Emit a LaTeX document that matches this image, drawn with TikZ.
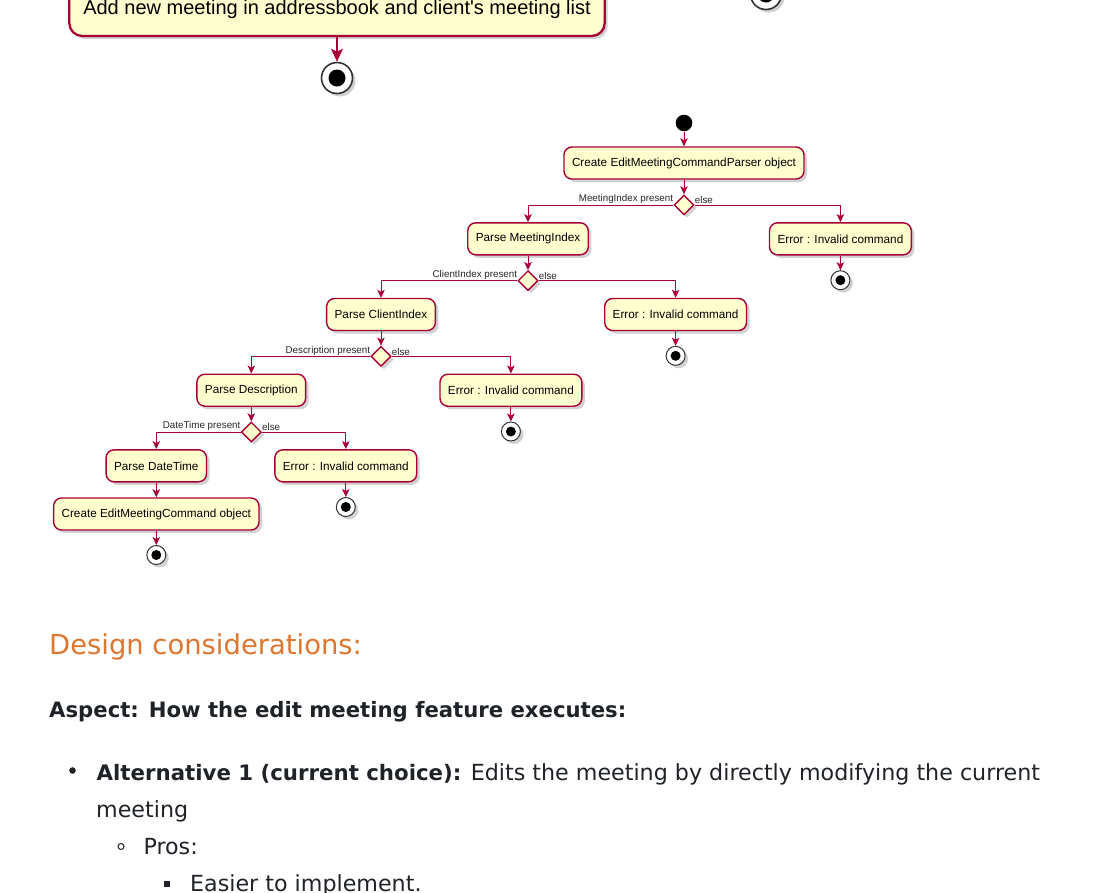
\documentclass[tikz,border=0pt]{standalone}
\usepackage{fontspec}
\setmainfont{DejaVu Sans}
\newfontfamily\umlfont{Liberation Sans}
\usetikzlibrary{arrows.meta,shapes.geometric,shadows}
\begin{document}
\begin{tikzpicture}[x=1pt, y=-1pt, >={Stealth[length=8pt,width=7.5pt,inset=2pt]},
  sombra/.style={drop shadow={shadow xshift=3pt, shadow yshift=-3pt, fill=black, opacity=0.18}},
  accion/.style={draw=borde, line width=1.4pt, fill=fondo, rounded corners=8pt,
    minimum height=32pt, inner xsep=8pt, inner ysep=0pt, sombra,
    font=\umlfont\fontsize{11.75}{14}\selectfont},
  accionG/.style={accion, line width=2.3pt, rounded corners=13pt, minimum height=54pt,
    inner xsep=14pt, font=\umlfont\fontsize{20}{24}\selectfont},
  decision/.style={diamond, draw=borde, line width=1.4pt, fill=fondo,
    minimum width=20pt, minimum height=20pt, inner sep=0pt, sombra},
  etiqueta/.style={inner sep=0pt, text=black!85, font=\umlfont\fontsize{9.8}{11}\selectfont},
  flecha/.style={->, draw=borde, line width=1pt},
  flechaG/.style={-{Stealth[length=13pt,width=12pt,inset=3pt]}, draw=borde, line width=1.7pt},
  inicio/.style={circle, fill=black, minimum size=16.6pt, inner sep=0pt},
  fin/.style={circle, draw=black!80, line width=1pt, fill=white, minimum size=19pt,
    inner sep=0pt, sombra,
    path picture={\fill[black] (path picture bounding box.center) circle (5pt);}},
  finG/.style={fin, line width=1.6pt, minimum size=31pt,
    path picture={\fill[black] (path picture bounding box.center) circle (8.5pt);}},
  cuerpo/.style={anchor=base west, inner sep=0pt, text=texto,
    font=\fontsize{22.2}{26}\selectfont}]
  \definecolor{borde}{HTML}{A80036}
  \definecolor{fondo}{HTML}{FEFECE}
  \definecolor{titulo}{RGB}{221,118,48}
  \definecolor{texto}{HTML}{1F2328}
  \useasboundingbox (0,0) rectangle (1100,892);
  \fill[white] (0,0) rectangle (1100,892);
  \clip (0,0) rectangle (1100,892);

  % Diagrama anterior (cortado arriba)
  \node[accionG] (agregar) at (337,9) {Add new meeting in addressbook and client's meeting list};
  \node[finG] (finA) at (337,78) {};
  \node[finG] (finB) at (766,-6) {};
  \draw[flechaG] (agregar) -- (finA);

  % Diagrama de edicion
  \node[inicio] (ini) at (684,123) {};
  \node[accion] (crear) at (684,163) {Create EditMeetingCommandParser object};
  \node[decision] (d1) at (684,205) {};
  \node[accion] (pmi) at (528,238.8) {Parse MeetingIndex};
  \node[accion] (e1) at (840.4,238.8) {Error : Invalid command};
  \node[fin] (f1) at (840.4,280.2) {};
  \node[decision] (d2) at (528,280.7) {};
  \node[accion] (pci) at (381,314.5) {Parse ClientIndex};
  \node[accion] (e2) at (675.6,314.5) {Error : Invalid command};
  \node[fin] (f2) at (675.6,355.8) {};
  \node[decision] (d3) at (381,356.3) {};
  \node[accion] (pde) at (251.3,390.2) {Parse Description};
  \node[accion] (e3) at (510.9,390.2) {Error : Invalid command};
  \node[fin] (f3) at (510.9,431.5) {};
  \node[decision] (d4) at (251.3,432) {};
  \node[accion] (pdt) at (156.3,465.8) {Parse DateTime};
  \node[accion] (e4) at (345.8,465.8) {Error : Invalid command};
  \node[fin] (f4) at (345.8,507) {};
  \node[accion] (cmd) at (156.3,514) {Create EditMeetingCommand object};
  \node[fin] (f5) at (156.3,555) {};

  % Etiquetas de las ramas
  \node[etiqueta, anchor=south east] (s1) at ([yshift=1pt]d1.west) {MeetingIndex present};
  \node[etiqueta, anchor=south west] (n1) at ([yshift=1pt]d1.east) {else};
  \node[etiqueta, anchor=south east] (s2) at ([yshift=1pt]d2.west) {ClientIndex present};
  \node[etiqueta, anchor=south west] (n2) at ([yshift=1pt]d2.east) {else};
  \node[etiqueta, anchor=south east] (s3) at ([yshift=1pt]d3.west) {Description present};
  \node[etiqueta, anchor=south west] (n3) at ([yshift=1pt]d3.east) {else};
  \node[etiqueta, anchor=south east] (s4) at ([yshift=1pt]d4.west) {DateTime present};
  \node[etiqueta, anchor=south west] (n4) at ([yshift=1pt]d4.east) {else};

  \draw[flecha] (ini) -- (crear);
  \draw[flecha] (crear) -- (d1);
  \draw[flecha] (d1.west) -| (pmi.north);
  \draw[flecha] (d1.east) -| (e1.north);
  \draw[flecha] (e1) -- (f1);
  \draw[flecha] (pmi) -- (d2);
  \draw[flecha] (d2.west) -| (pci.north);
  \draw[flecha] (d2.east) -| (e2.north);
  \draw[flecha] (e2) -- (f2);
  \draw[flecha] (pci) -- (d3);
  \draw[flecha] (d3.west) -| (pde.north);
  \draw[flecha] (d3.east) -| (e3.north);
  \draw[flecha] (e3) -- (f3);
  \draw[flecha] (pde) -- (d4);
  \draw[flecha] (d4.west) -| (pdt.north);
  \draw[flecha] (d4.east) -| (e4.north);
  \draw[flecha] (e4) -- (f4);
  \draw[flecha] (pdt) -- (cmd);
  \draw[flecha] (cmd) -- (f5);

  % Texto de la pagina
  \node[cuerpo, text=titulo, font=\fontsize{27.4}{32}\selectfont] (consid) at (49,654.3)
    {Design considerations:};
  \node[cuerpo, font=\bfseries\fontsize{21.2}{26}\selectfont] (aspecto) at (49,717.3)
    {Aspect: How the edit meeting feature executes:};
  \fill[texto] (72.5,770.5) circle (3.3pt); % vineta 1
  \node[cuerpo] (alt1) at (96.5,780)
    {{\bfseries\fontsize{21.3}{26}\selectfont Alternative 1 (current choice):} Edits the meeting by directly modifying the current};
  \node[cuerpo] (alt1b) at (96,817) {meeting};
  \draw[texto, line width=1pt] (121,846.5) circle (3pt); % vineta 2
  \node[cuerpo] (pros) at (143.3,854) {Pros:};
  \fill[texto] (164,880.5) rectangle ++(6,6); % vineta 3
  \node[cuerpo] (facil) at (190,891.5) {Easier to implement.};
\end{tikzpicture}
\end{document}
